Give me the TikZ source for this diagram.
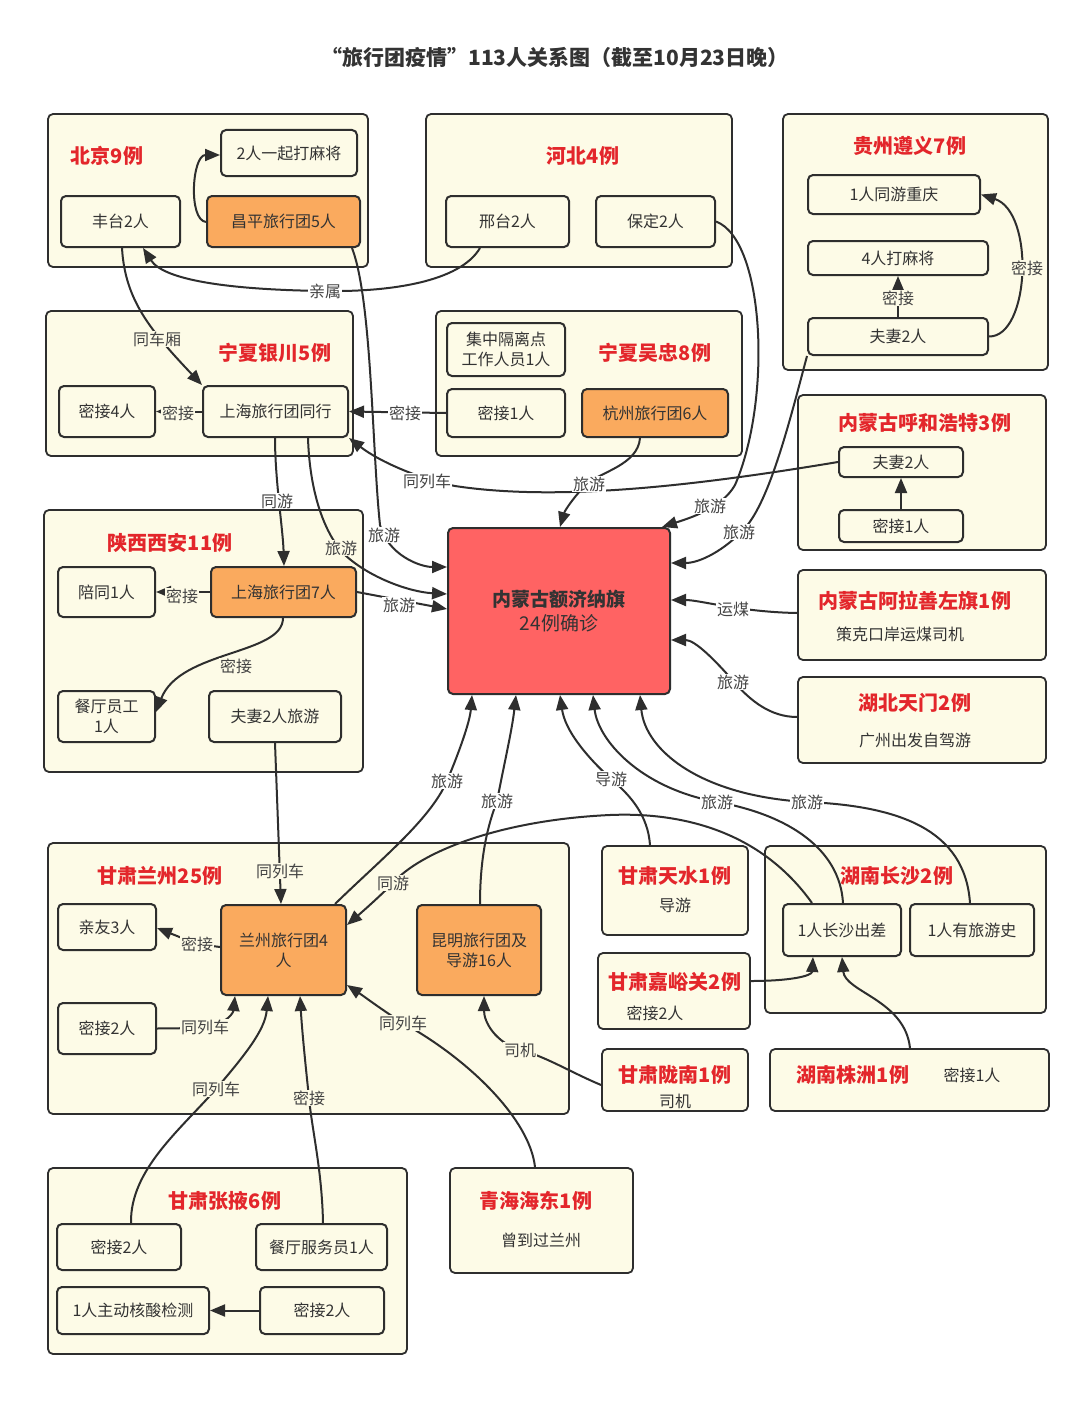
\documentclass[tikz,border=0pt]{standalone}
\usepackage{fontspec}
\setmainfont{Noto Sans CJK SC}
\usetikzlibrary{arrows.meta}
\definecolor{cream}{HTML}{FDFBE7}
\definecolor{orng}{HTML}{FAAA5E}
\definecolor{ctrred}{HTML}{FF6363}
\definecolor{lc}{HTML}{2E2E2E}
\definecolor{tc}{HTML}{333333}
\definecolor{redc}{HTML}{E3262B}
\definecolor{lblcol}{HTML}{444444}
\newcommand\fsz[2]{\fontsize{#1}{#2}\selectfont}
\begin{document}
\begin{tikzpicture}[x=1pt,y=-1pt,
  grp/.style={draw=lc, line width=1.8pt, fill=cream, rounded corners=5pt, inner sep=0pt},
  bx/.style={draw=lc, line width=2pt, fill=cream, rounded corners=5pt, text=tc, font=\fsz{16}{20}, align=center, inner sep=0pt},
  obx/.style={bx, fill=orng},
  rtl/.style={text=redc, font=\bfseries\fsz{20}{24}},
  subt/.style={text=tc, font=\fsz{16}{20}},
  lbl/.style={fill=white, text=lblcol, font=\fsz{16}{20}, inner sep=1pt},
  lblc/.style={lbl, fill=cream},
  con/.style={draw=lc, line width=2pt},
  arr/.style={con, -{Triangle[length=15pt,width=12pt]}}
]
\useasboundingbox (0,0) rectangle (1080,1410);
\fill[white] (0,0) rectangle (1080,1410);

\node[font=\bfseries\fsz{21}{25}, text=tc] (title) at (555,57) {“旅行团疫情”113人关系图（截至10月23日晚）};

% ---------- groups ----------
\node[grp, minimum width=320pt, minimum height=153pt] (gBJ) at (208,190.5) {};
\node[grp, minimum width=306pt, minimum height=153pt] (gHB) at (579,190.5) {};
\node[grp, minimum width=265pt, minimum height=256pt] (gGZ) at (915.5,242) {};
\node[grp, minimum width=307pt, minimum height=145pt] (gYC) at (199.5,383.5) {};
\node[grp, minimum width=306pt, minimum height=145pt] (gWZ) at (589,383.5) {};
\node[grp, minimum width=248pt, minimum height=155pt] (gHH) at (922,472.5) {};
\node[grp, minimum width=248pt, minimum height=90pt] (gALS) at (922,615) {};
\node[grp, minimum width=248pt, minimum height=86pt] (gTM) at (922,720) {};
\node[grp, minimum width=319pt, minimum height=262pt] (gXA) at (203.5,641) {};
\node[grp, minimum width=521pt, minimum height=271pt] (gLZ) at (308.5,978.5) {};
\node[grp, minimum width=146pt, minimum height=89pt] (gTS) at (675,890.5) {};
\node[grp, minimum width=281pt, minimum height=167pt] (gCS) at (905.5,929.5) {};
\node[grp, minimum width=152pt, minimum height=76pt] (gJYG) at (674,991) {};
\node[grp, minimum width=146pt, minimum height=62pt] (gLN) at (675,1080) {};
\node[grp, minimum width=279pt, minimum height=62pt] (gZZ) at (909.5,1080) {};
\node[grp, minimum width=359pt, minimum height=186pt] (gZY) at (227.5,1261) {};
\node[grp, minimum width=183pt, minimum height=105pt] (gQH) at (541.5,1220.5) {};

% ---------- group titles ----------
\node[rtl] (tBJ) at (107,156) {北京9例};
\node[rtl] (tHB) at (583,156) {河北4例};
\node[rtl] (tGZ) at (910,146) {贵州遵义7例};
\node[rtl] (tYC) at (275,353) {宁夏银川5例};
\node[rtl] (tWZ) at (655,353) {宁夏吴忠8例};
\node[rtl] (tHH) at (925,423) {内蒙古呼和浩特3例};
\node[rtl] (tALS) at (915,601) {内蒙古阿拉善左旗1例};
\node[subt] (sALS) at (900,634) {策克口岸运煤司机};
\node[rtl] (tTM) at (915,703) {湖北天门2例};
\node[subt] (sTM) at (915,740) {广州出发自驾游};
\node[rtl] (tXA) at (170,543) {陕西西安11例};
\node[rtl] (tLZ) at (160,876) {甘肃兰州25例};
\node[rtl] (tTS) at (675,876) {甘肃天水1例};
\node[subt] (sTS) at (675,905) {导游};
\node[rtl] (tCS) at (897,876) {湖南长沙2例};
\node[rtl] (tJYG) at (675,982) {甘肃嘉峪关2例};
\node[subt] (sJYG) at (655,1013) {密接2人};
\node[rtl] (tLN) at (675,1075) {甘肃陇南1例};
\node[subt] (sLN) at (675,1101) {司机};
\node[rtl] (tZZ) at (853,1075) {湖南株洲1例};
\node[subt] (sZZ) at (972,1075) {密接1人};
\node[rtl] (tZY) at (225,1201) {甘肃张掖6例};
\node[rtl] (tQH) at (536,1201) {青海海东1例};
\node[subt] (sQH) at (541,1240) {曾到过兰州};

% ---------- inner boxes ----------
\node[bx, minimum width=136pt, minimum height=46pt] (mj) at (289,153) {2人一起打麻将};
\node[bx, minimum width=119pt, minimum height=51pt] (ft) at (120.5,221.5) {丰台2人};
\node[obx, minimum width=153pt, minimum height=51pt] (cp) at (283.5,221.5) {昌平旅行团5人};
\node[bx, minimum width=123pt, minimum height=51pt] (xt) at (507.5,221.5) {邢台2人};
\node[bx, minimum width=119pt, minimum height=51pt] (bd) at (655.5,221.5) {保定2人};
\node[bx, minimum width=172pt, minimum height=39pt] (gzcq) at (894,194.5) {1人同游重庆};
\node[bx, minimum width=180pt, minimum height=34pt] (gz4) at (898,258) {4人打麻将};
\node[bx, minimum width=180pt, minimum height=37pt] (gzfq) at (898,336.5) {夫妻2人};
\node[bx, minimum width=96pt, minimum height=51pt] (mj4) at (107,411.5) {密接4人};
\node[bx, minimum width=145pt, minimum height=51pt] (shtx) at (275.5,411.5) {上海旅行团同行};
\node[bx, minimum width=118pt, minimum height=53pt] (jz) at (506,349.5) {集中隔离点\\工作人员1人};
\node[bx, minimum width=118pt, minimum height=48pt] (wz1) at (506,413) {密接1人};
\node[obx, minimum width=146pt, minimum height=48pt] (hz) at (655,413) {杭州旅行团6人};
\node[bx, minimum width=124pt, minimum height=30pt] (hhfq) at (901,462) {夫妻2人};
\node[bx, minimum width=124pt, minimum height=32pt] (hh1) at (901,526) {密接1人};
\node[bx, minimum width=97pt, minimum height=50pt] (pt) at (106.5,592) {陪同1人};
\node[obx, minimum width=145pt, minimum height=50pt] (sh7) at (283.5,592) {上海旅行团7人};
\node[bx, minimum width=97pt, minimum height=51pt] (ct) at (106.5,716.5) {餐厅员工\\1人};
\node[bx, minimum width=132pt, minimum height=51pt] (fq) at (275,716.5) {夫妻2人旅游};
\node[bx, fill=ctrred, minimum width=222pt, minimum height=166pt, font=\fsz{19}{24}] (ctr) at (559,611) {\textbf{内蒙古额济纳旗}\\24例确诊};
\node[bx, minimum width=98pt, minimum height=46pt] (qy) at (107,927) {亲友3人};
\node[obx, minimum width=125pt, minimum height=90pt] (lz4) at (283.5,950) {兰州旅行团4\\人};
\node[obx, minimum width=124pt, minimum height=90pt] (km) at (479,950) {昆明旅行团及\\导游16人};
\node[bx, minimum width=98pt, minimum height=51pt] (lzmj) at (107,1028.5) {密接2人};
\node[bx, minimum width=118pt, minimum height=52pt] (cs1) at (842,930) {1人长沙出差};
\node[bx, minimum width=124pt, minimum height=52pt] (cs2) at (972,930) {1人有旅游史};
\node[bx, minimum width=124pt, minimum height=46pt] (zy1) at (119,1247) {密接2人};
\node[bx, minimum width=131pt, minimum height=46pt] (zy2) at (321.5,1247) {餐厅服务员1人};
\node[bx, minimum width=152pt, minimum height=47pt] (zy3) at (133,1310.5) {1人主动核酸检测};
\node[bx, minimum width=124pt, minimum height=47pt] (zy4) at (322,1310.5) {密接2人};

% ---------- connectors ----------
% Beijing
\draw[arr] (cp.west |- 0,222) .. controls (188,220) and (192,155) .. (mj.west |- 0,155);
\draw[arr] (xt.south -| 480,0) .. controls (460,282) and (390,292) .. (325,291)
           .. controls (240,290) and (165,282) .. (ft.south -| 143,0);
\draw[arr] (ft.south -| 122,0) .. controls (125,300) and (150,330) .. (shtx.north west);
% Ningxia
\draw[arr] (shtx.west) -- (mj4.east);
\draw[arr] (wz1.west) -- (shtx.east);
\draw[arr] (hhfq.west) .. controls (700,485) and (560,502) .. (455,486)
           .. controls (420,479) and (380,462) .. (shtx.south east);
% Guizhou
\draw[arr] (gzfq.north) -- (gz4.south);
\draw[arr] (gzfq.east) .. controls (1030,337) and (1035,212) .. (gzcq.east);
% Hohhot
\draw[arr] (hh1.north) -- (hhfq.south);
% Xi'an
\draw[arr] (shtx.south -| 275,0) .. controls (275,480) and (283,530) .. (sh7.north -| 284,0);
\draw[arr] (sh7.west) -- (pt.east);
\draw[arr] (sh7.south -| 283,0) .. controls (283,655) and (180,650) .. (ct.east |- 0,712);
\draw[arr] (fq.south -| 275,0) -- (lz4.north -| 281,0);
% into centre: left side
\draw[arr] (cp.south -| 352,0) .. controls (372,300) and (372,450) .. (380,525)
           .. controls (388,555) and (420,567) .. (ctr.west |- 0,567);
\draw[arr] (shtx.south -| 308,0) .. controls (310,500) and (328,538) .. (345,555)
           .. controls (370,578) and (410,592) .. (ctr.west |- 0,594);
\draw[arr] (sh7.east) -- (ctr.west |- 0,609);
% into centre: top
\draw[arr] (hz.south -| 640,0) .. controls (638,465) and (600,472) .. (587,484)
           .. controls (576,494) and (565,510) .. (ctr.north -| 560,0);
\draw[arr] (bd.east) .. controls (765,240) and (772,400) .. (735,485)
           .. controls (722,508) and (690,518) .. (ctr.north -| 662,0);
\draw[arr] (gzfq.south west) .. controls (790,420) and (770,500) .. (745,528)
           .. controls (725,550) and (700,563) .. (ctr.east |- 0,563);
% into centre: right
\draw[arr] (gALS.west |- 0,613) .. controls (740,612) and (700,600) .. (ctr.east |- 0,600);
\draw[arr] (gTM.west |- 0,717) .. controls (770,717) and (750,700) .. (735,683)
           .. controls (715,660) and (695,640) .. (ctr.east |- 0,640);
% into centre: bottom
\draw[arr] (lz4.north -| 335,0) .. controls (380,860) and (430,820) .. (447,781)
           .. controls (462,745) and (470,720) .. (ctr.south -| 472,0);
\draw[arr] (km.north -| 480,0) .. controls (480,850) and (490,820) .. (497,801)
           .. controls (505,760) and (512,730) .. (ctr.south -| 516,0);
\draw[arr] (gTS.north -| 650,0) .. controls (648,815) and (630,795) .. (611,779)
           .. controls (585,755) and (565,730) .. (ctr.south -| 560,0);
\draw[arr] (cs1.north -| 843,0) .. controls (840,850) and (790,815) .. (717,802)
           .. controls (640,788) and (598,740) .. (ctr.south -| 593,0);
\draw[arr] (cs2.north -| 970,0) .. controls (965,830) and (900,806) .. (807,802)
           .. controls (700,796) and (645,750) .. (ctr.south -| 640,0);
% Lanzhou
\draw[arr] (cs1.north -| 812,0) .. controls (760,830) and (680,812) .. (610,815)
           .. controls (500,820) and (420,852) .. (393,883)
           .. controls (378,898) and (362,912) .. (lz4.east |- 0,925);
\draw[arr] (lz4.west |- 0,947) -- (197,944) -- (qy.east |- 0,928);
\draw[arr] (lzmj.east) -- (200,1028) .. controls (220,1028) and (233,1015) .. (lz4.south -| 235,0);
\draw[arr] (zy1.north -| 131,0) .. controls (130,1170) and (180,1130) .. (216,1089)
           .. controls (245,1055) and (265,1030) .. (lz4.south -| 268,0);
\draw[arr] (zy2.north -| 323,0) .. controls (322,1170) and (312,1130) .. (309,1098)
           .. controls (305,1060) and (302,1030) .. (lz4.south -| 300,0);
\draw[arr] (gQH.north -| 535,0) .. controls (530,1120) and (470,1060) .. (403,1023)
           .. controls (382,1010) and (365,997) .. (lz4.east |- 0,985);
\draw[arr] (gLN.west |- 0,1085) .. controls (570,1072) and (545,1056) .. (520,1050)
           .. controls (495,1042) and (484,1022) .. (km.south -| 484,0);
% Changsha
\draw[arr] (gJYG.east |- 0,981) .. controls (790,981) and (812,976) .. (cs1.south -| 813,0);
\draw[arr] (gZZ.north -| 910,0) .. controls (905,1000) and (845,992) .. (cs1.south -| 842,0);
% Zhangye
\draw[arr] (zy4.west) -- (zy3.east);

% ---------- connector labels ----------
\node[lbl] (l01) at (325,291) {亲属};
\node[lblc] (l02) at (157,339) {同车厢};
\node[lblc] (l03) at (178,413) {密接};
\node[lbl] (l04) at (405,413) {密接};
\node[lblc] (l05) at (898,298) {密接};
\node[lblc] (l06) at (1027,268) {密接};
\node[lbl] (l07) at (427,481) {同列车};
\node[lbl] (l08) at (589,484) {旅游};
\node[lbl] (l09) at (710,506) {旅游};
\node[lbl] (l10) at (739,532) {旅游};
\node[lbl] (l11) at (277,501) {同游};
\node[lbl] (l12) at (384,535) {旅游};
\node[lblc] (l13) at (341,548) {旅游};
\node[lbl] (l14) at (399,605) {旅游};
\node[lblc] (l15) at (182,596) {密接};
\node[lblc] (l16) at (236,666) {密接};
\node[lbl] (l17) at (733,609) {运煤};
\node[lbl] (l18) at (733,682) {旅游};
\node[lbl] (l19) at (447,781) {旅游};
\node[lbl] (l20) at (497,801) {旅游};
\node[lbl] (l21) at (611,779) {导游};
\node[lbl] (l22) at (717,802) {旅游};
\node[lbl] (l23) at (807,802) {旅游};
\node[lblc] (l24) at (280,871) {同列车};
\node[lblc] (l25) at (393,883) {同游};
\node[lblc] (l26) at (197,944) {密接};
\node[lblc] (l27) at (205,1027) {同列车};
\node[lblc] (l28) at (403,1023) {同列车};
\node[lblc] (l29) at (520,1050) {司机};
\node[lblc] (l30) at (216,1089) {同列车};
\node[lblc] (l31) at (309,1098) {密接};
\end{tikzpicture}
\end{document}
